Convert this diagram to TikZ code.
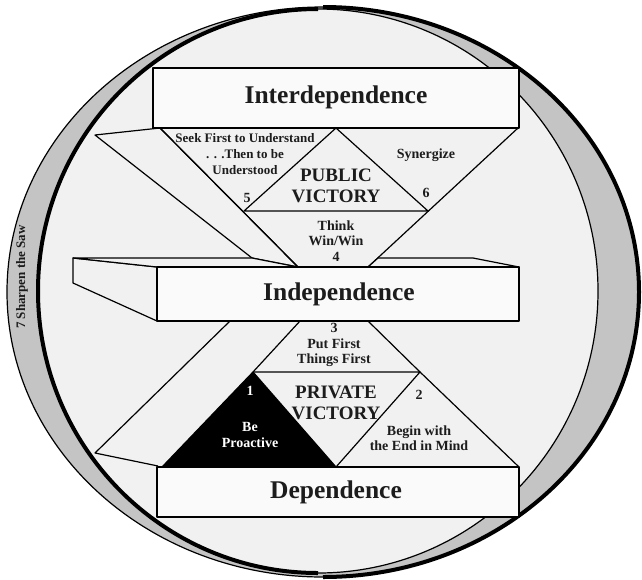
\documentclass[tikz,border=0pt]{standalone}
\usepackage{fontspec}
\setmainfont{Liberation Serif}
\definecolor{ringgray}{HTML}{C4C4C4}
\definecolor{bgfill}{HTML}{F1F1F1}
\definecolor{boxfill}{HTML}{FAFAFA}
\definecolor{ink}{HTML}{1C1C1C}
\begin{document}
\begin{tikzpicture}[x=1pt,y=-1pt,
  thinline/.style={draw=black,line width=1.2pt,line join=round},
  face/.style={thinline,fill=bgfill},
  front/.style={thinline,fill=boxfill},
  bigtext/.style={font=\fontsize{25.5}{28}\selectfont\bfseries,text=ink,inner sep=0pt},
  victext/.style={font=\fontsize{19}{21}\selectfont\bfseries,text=ink,align=center,inner sep=0pt},
  smalltext/.style={font=\fontsize{14}{15.5}\selectfont\bfseries,text=ink,align=center,inner sep=0pt},
  seektext/.style={font=\fontsize{13}{16}\selectfont\bfseries,text=ink,align=center,inner sep=0pt}]
\useasboundingbox (0,0) rectangle (642,579);
% ring
\coordinate (oc) at (323,292);
\coordinate (ic) at (318,291);
\fill[ringgray,draw=black,line width=1.2pt] (oc) ellipse [x radius=316,y radius=285];
\fill[bgfill,draw=black,line width=1.2pt] (ic) ellipse [x radius=280,y radius=282];
\draw[line width=4pt] (318,9) arc[start angle=270,end angle=90,x radius=280,y radius=282];
\draw[line width=4pt] (323,7) arc[start angle=-90,end angle=90,x radius=316,y radius=285];
\node[font=\fontsize{13}{15}\selectfont\bfseries,text=ink,rotate=90] (saw) at (22,277) {7 Sharpen the Saw};
% upper X
\coordinate (ul) at (95,135);
\coordinate (ia) at (160,128);
\coordinate (apx) at (336,128);
\coordinate (ib) at (518,128);
\coordinate (p5) at (244,211);
\coordinate (p6) at (428,211);
\coordinate (la) at (298,267);
\coordinate (lb) at (368,267);
\coordinate (lw) at (252,258);
\filldraw[face] (ul) -- (ia) -- (la) -- (lw) -- cycle;
\draw[thinline] (ia) -- (la);
\draw[thinline] (ib) -- (lb);
\draw[thinline] (p5) -- (apx) -- (p6) -- cycle;
% Independence box
\filldraw[face] (73,258) -- (73,283) -- (157,321) -- (157,267) -- cycle;
\filldraw[face] (73,258) -- (lw) -- (la) -- (157,267) -- cycle;
\filldraw[face] (lb) -- (378,258) -- (473,258) -- (519,267) -- cycle;
\filldraw[front] (157,267) rectangle (519,321);
% lower X
\coordinate (dl) at (95,453);
\coordinate (ea) at (230,321);
\coordinate (eb) at (300,321);
\coordinate (ec) at (368,321);
\coordinate (q1) at (253,372);
\coordinate (q2) at (420,372);
\coordinate (d1) at (162,467);
\coordinate (d2) at (336,467);
\coordinate (d3) at (519,467);
\draw[thinline] (ea) -- (dl) -- (158,466);
\draw[thinline] (eb) -- (q1);
\draw[thinline] (ec) -- (q2) -- (d3);
\draw[thinline] (q1) -- (q2) -- (d2);
\filldraw[thinline,fill=black] (q1) -- (d1) -- (d2) -- cycle;
% boxes
\filldraw[front] (153,68) rectangle (519,128);
\filldraw[front] (157,467) rectangle (519,517);
% texts
\node[bigtext] (interdep) at (336,97) {Interdependence};
\node[bigtext] (indep) at (339,294) {Independence};
\node[bigtext] (dep) at (336,492) {Dependence};
\node[seektext] (seek) at (245,154) {Seek First to Understand\\. . .Then to be\\Understood};
\node[smalltext] (n5) at (247,198) {5};
\node[smalltext] (syn) at (426,155) {Synergize};
\node[smalltext] (n6) at (426,193) {6};
\node[victext] (pub) at (336,186) {PUBLIC\\VICTORY};
\node[smalltext] (think) at (336,241) {Think\\Win/Win\\4};
\node[smalltext] (put) at (334,345) {3\\Put First\\Things First};
\node[victext] (priv) at (336,403) {PRIVATE\\VICTORY};
\node[smalltext,text=white] (n1) at (250,391) {1};
\node[smalltext,text=white] (pro) at (250,435) {Be\\Proactive};
\node[smalltext] (n2) at (419,395) {2};
\node[smalltext] (beg) at (419,438) {Begin with\\the End in Mind};
\end{tikzpicture}
\end{document}
